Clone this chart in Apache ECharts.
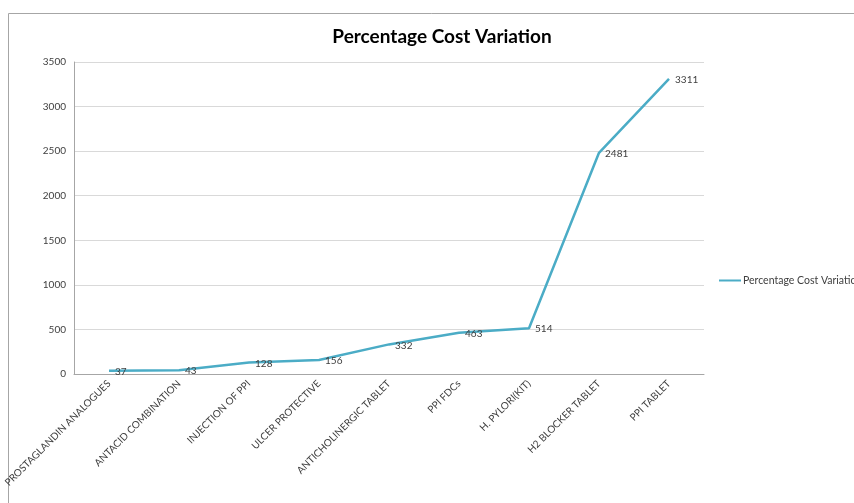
<!DOCTYPE html>
<html><head><meta charset="utf-8">
<script src="https://cdn.jsdelivr.net/npm/echarts@6/dist/echarts.min.js"></script>
<style>html,body{margin:0;padding:0;background:#fff}#c{width:854px;height:503px}</style>
</head><body><div id="c"></div>
<script>
const categories = ["PROSTAGLANDIN ANALOGUES","ANTACID COMBINATION","INJECTION OF PPI","ULCER PROTECTIVE","ANTICHOLINERGIC TABLET","PPI FDCs","H. PYLORI(KIT)","H2 BLOCKER TABLET","PPI TABLET"];
const values = [37, 43, 128, 156, 332, 463, 514, 2481, 3311];
const seriesName = "Percentage Cost Variation";
const titleText = "Percentage Cost Variation";

const chart = echarts.init(document.getElementById('c'));
chart.setOption({
  animation: false,
  backgroundColor: '#fff',
  textStyle: { fontFamily: 'Lato, "Open Sans", sans-serif' },
  graphic: [{ type: 'rect', shape: { x: 8.5, y: 13.5, width: 900, height: 520 }, style: { fill: 'none', stroke: '#a6a6a6', lineWidth: 1 }, silent: true }],
  title: { text: titleText, left: 437, textAlign: 'center', top: 22,
    textStyle: { fontSize: 19, fontWeight: 'bold', color: '#000', fontFamily: 'Lato, sans-serif' } },
  legend: { left: 719, top: 275, padding: 0, itemWidth: 22, itemHeight: 10, itemGap: 2, icon: 'path://M0,4 L22,4 L22,6 L0,6 Z',
    textStyle: { fontSize: 10.5, color: '#404040', padding: [0,0,0,-3] }, data: [seriesName] },
  grid: { left: 74, right: 150, top: 62, bottom: 129, containLabel: false },
  xAxis: { type: 'category', data: categories, boundaryGap: true,
    axisLine: { lineStyle: { color: '#a6a6a6' } }, axisTick: { show: false },
    axisLabel: { rotate: 45, fontSize: 10, color: '#404040', interval: 0, margin: 8 } },
  yAxis: { type: 'value', min: 0, max: 3500, interval: 500,
    axisLine: { show: true, lineStyle: { color: '#a6a6a6' } }, axisTick: { show: false },
    splitLine: { lineStyle: { color: '#d9d9d9' } },
    axisLabel: { fontSize: 10, color: '#404040', margin: 8, formatter: v => String(v) } },
  series: [{ name: seriesName, type: 'line', data: values, symbol: 'circle', symbolSize: 0.1, showSymbol: true,
    lineStyle: { color: '#4BACC6', width: 2.5 }, itemStyle: { color: '#4BACC6' },
    label: { show: true, position: 'right', distance: 6, fontSize: 10, color: '#404040', offset: [0, 1] } }]
});
</script></body></html>
